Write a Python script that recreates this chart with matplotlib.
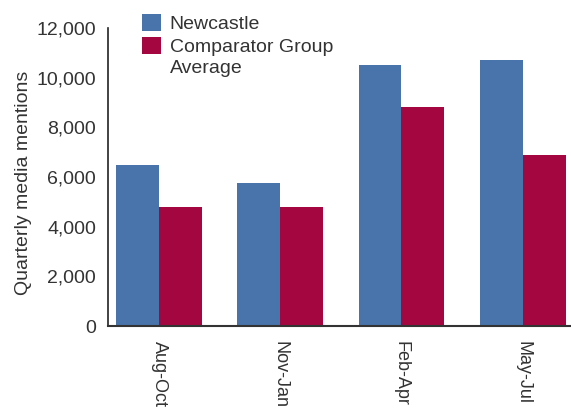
import numpy as np
import matplotlib
matplotlib.use("Agg")
import matplotlib.pyplot as plt
from matplotlib.ticker import FuncFormatter
from matplotlib.patches import Rectangle
from matplotlib.legend_handler import HandlerPatch

# data
quarters = ["Aug-Oct", "Nov-Jan", "Feb-Apr", "May-Jul"]
newcastle = [6500, 5750, 10500, 10700]
comparator = [4800, 4800, 8800, 6900]
series_names = ["Newcastle", "Comparator Group\nAverage"]

blue = "#4873ab"
red = "#a4063f"
text_col = "#333333"

plt.rcParams["font.family"] = ["Liberation Sans", "DejaVu Sans"]

fig = plt.figure(figsize=(5.71, 4.12), dpi=100)
ax = fig.add_axes([0.19, 0.2087, 0.81, 0.7233])

x = np.arange(len(quarters))
w = 0.355
b1 = ax.bar(x - w / 2, newcastle, w, color=blue)
b2 = ax.bar(x + w / 2, comparator, w, color=red)

ax.set_xlim(-0.42, 3.40)
ax.set_ylim(0, 12000)
ax.set_yticks(range(0, 12001, 2000))
ax.yaxis.set_major_formatter(FuncFormatter(lambda v, p: f"{int(v):,}"))
ax.set_xticks(x)
ax.set_xticklabels(quarters, rotation=-90, va="top", ha="center")

ax.tick_params(axis="y", length=0, pad=9, labelsize=14, labelcolor=text_col)
ax.tick_params(axis="x", length=0, pad=11, labelsize=13, labelcolor=text_col)

ax.spines["top"].set_visible(False)
ax.spines["right"].set_visible(False)
ax.spines["left"].set_color("#222222")
ax.spines["left"].set_linewidth(1.2)
ax.spines["bottom"].set_color("#333333")
ax.spines["bottom"].set_linewidth(1.5)

ax.set_ylabel("Quarterly media mentions", fontsize=14, color=text_col)
ax.yaxis.set_label_coords(-0.165, 0.48)


# put the square of the two-line entry next to its first line
def top_square(legend, orig_handle, xdescent, ydescent, width, height, fontsize):
    return Rectangle((-xdescent, -ydescent + 9.0), width, height)


h1, h2 = b1.patches[0], b2.patches[0]
leg = fig.legend(handles=[h1, h2], labels=series_names, loc="upper left",
                 bbox_to_anchor=(0.224, 1.0),
                 frameon=False, fontsize=14, handlelength=1.0, handleheight=1.0,
                 handletextpad=0.45, labelspacing=0.3, borderpad=0.2,
                 labelcolor=text_col,
                 handler_map={h2: HandlerPatch(patch_func=top_square)})
leg.get_texts()[1].set_linespacing(1.35)

fig.savefig("out.png", dpi=100)
